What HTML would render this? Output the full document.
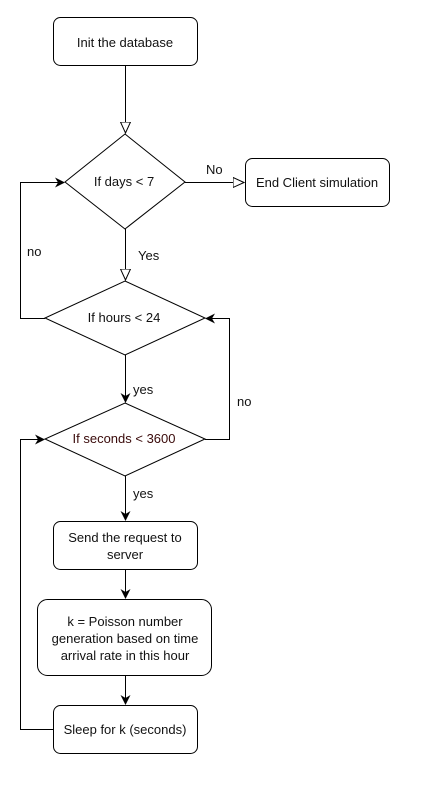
<!DOCTYPE html>
<html><head><style>body{margin:0;background:#fff}svg{display:block}</style></head>
<body>
<svg width="421" height="792" viewBox="0 0 421 792" xmlns="http://www.w3.org/2000/svg" font-family="Liberation Sans, sans-serif" font-size="13" fill="none">
<defs>
<marker id="f" markerWidth="10" markerHeight="10" refX="9" refY="5" orient="auto" markerUnits="userSpaceOnUse"><path d="M0,0 L10,5 L0,10 L3,5 Z" fill="#000"/></marker>
<marker id="h" markerWidth="12" markerHeight="12" refX="11" refY="5.5" orient="auto" markerUnits="userSpaceOnUse"><path d="M0,0.5 L11,5.5 L0,10.5 Z" fill="#fff" stroke="#000" stroke-width="1"/></marker>
</defs>
<g stroke="#000" stroke-width="1">
<rect x="53.5" y="17.5" width="144" height="48" rx="7" fill="#fff"/>
<rect x="245.5" y="158.5" width="144" height="48" rx="7" fill="#fff"/>
<rect x="53.5" y="521.5" width="144" height="48" rx="7" fill="#fff"/>
<rect x="37.5" y="599.5" width="174" height="76" rx="10" fill="#fff"/>
<rect x="53.5" y="705.5" width="144" height="48" rx="7" fill="#fff"/>
<path d="M125,134 L185,182 L125,229 L65,182 Z" fill="#fff"/>
<path d="M125,281 L205,318 L125,355 L45,318 Z" fill="#fff"/>
<path d="M125,403 L205,439 L125,476 L45,439 Z" fill="#fff"/>
<path d="M125.5,65 V133" marker-end="url(#h)"/>
<path d="M185,182.5 H244" marker-end="url(#h)"/>
<path d="M125.5,229 V280" marker-end="url(#h)"/>
<path d="M45,318.5 H20.5 V182.5 H64" marker-end="url(#f)"/>
<path d="M125.5,355 V402" marker-end="url(#f)"/>
<path d="M205,439.5 H229.5 V318.5 H206" marker-end="url(#f)"/>
<path d="M125.5,476 V520" marker-end="url(#f)"/>
<path d="M125.5,569 V598" marker-end="url(#f)"/>
<path d="M125.5,675 V704" marker-end="url(#f)"/>
<path d="M53,729.5 H20.5 V439.5 H44" marker-end="url(#f)"/>
</g>
<g fill="#111" text-anchor="middle">
<text x="125" y="47">Init the database</text>
<text x="317" y="187">End Client simulation</text>
<text x="124" y="186">If days &lt; 7</text>
<text x="124" y="322">If hours &lt; 24</text>
<text x="124" y="443" fill="#3a0a0a">If seconds &lt; 3600</text>
<text x="125" y="542">Send the request to</text>
<text x="125" y="559">server</text>
<text x="125" y="626">k = Poisson number</text>
<text x="125" y="643">generation based on time</text>
<text x="125" y="660">arrival rate in this hour</text>
<text x="125" y="734">Sleep for k (seconds)</text>
</g>
<g fill="#111">
<text x="206" y="174">No</text>
<text x="138" y="260">Yes</text>
<text x="27" y="256">no</text>
<text x="133" y="394">yes</text>
<text x="237" y="406">no</text>
<text x="133" y="498">yes</text>
</g>
</svg>
</body></html>
